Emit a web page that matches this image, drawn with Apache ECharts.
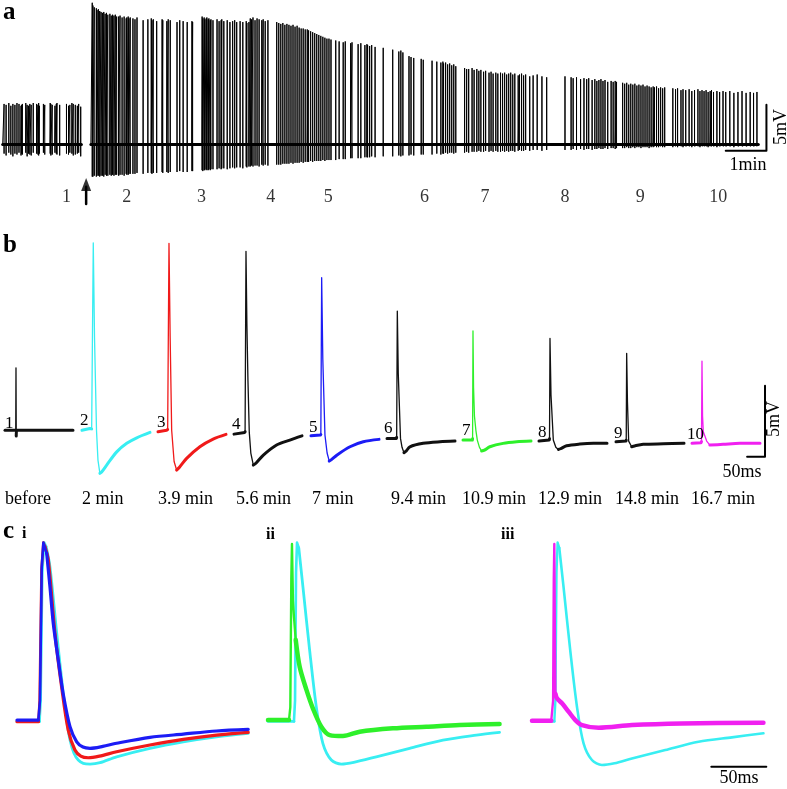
<!DOCTYPE html>
<html><head><meta charset="utf-8">
<script src="https://cdn.jsdelivr.net/npm/echarts@6/dist/echarts.min.js"></script>
<style>html,body{margin:0;padding:0;background:#fff}#c{width:787px;height:789px}</style>
</head><body><div id="c"></div>
<script>
// ---------- Panel a: spike train (time in s, voltage in mV rel. baseline) ----------
const recBefore = [4, 120];
const recAfter = [134, 1118];
const beforeSpikeT = [6,9,13,16,19,22,25,28,31,32, 33,38,40,42,44,46,49,54,56,57, 58,64,66,74,75,77,81,83,84,88, 98,101,103,106,108,111,114,116,119];
const beforeSpikePeak = [4.4,4.3,4.5,4.2,4.4,4.3,4.5,4.4,4.2,4.3, 4.4,4.5,4.3,4.2,4.4,4.3,4.5,4.4,4.3,4.5, 4.2,4.4,4.3,4.5,4.4,4.3,4.2,4.4,4.5,4.3, 4.4,4.2,4.3,4.5,4.4,4.3,4.2,4.4,4.1];
const beforeSpikeTrough = [-1.0,-1.2,-0.9,-1.1,-1.3,-1.0,-1.1,-0.9,-1.2,-1.0, -1.1,-0.9,-1.3,-1.0,-1.1,-1.2,-0.9,-1.0,-1.1,-1.2, -1.0,-0.9,-1.1,-1.0,-1.2,-1.1,-0.9,-1.0,-1.1,-1.2, -1.0,-1.1,-0.9,-1.0,-1.2,-1.1,-1.0,-0.9,-1.3];
const afterSpikeT = [
 136,137,139,142,143,145,147,149,151,153,155,157,159,162,164,166,168,170,172,175,177,180,183,186,187,189,190,192,
 196,199,202,211,218,223,224,226,231,239,240,246,248,251,261,265,270,276,283,284,
 298,299,301,302,304,305,307,308,310,311,314,320,323,326,327,330,335,339,343,346,349,354,358,363,364,367,
 369,371,373,376,379,382,386,388,391,395,
 408,411,414,417,420,423,426,429,432,435,438,441,444,447,450,453,455,458,461,464,467,470,473,476,479,482,485,488,
 495,500,506,509,517,519,528,532,538,541,542,545,548,553,
 565,579,588,591,594,
 603,606,610,621,624,
 637,644,650,653,654,657,660,663,666,669,672,
 685,688,691,696,699,703,706,709,713,716,721,724,727,731,734,
 738,741,744,747,750,753,756,759,764,766,769,772,775,781,786,792,799,806,
 833,842,845,850,856,861,865,868,873,877,880,883,886,889,892,896,901,904,907,909,
 918,921,924,927,930,933,936,939,942,945,948,951,954,957,960,963,965,968,971,974,977,980,
 992,996,999,1004,1007,1011,1016,1020,1024,1029,1032,1035,1038,1041,1044,1047,1049,1052,1057,1061,1066,1070,1076,1082,1088,1094,1100,1106,1111,1116];
const afterSpikePeak = [
 15.4,15.1,14.9,14.8,14.6,14.7,14.5,14.4,14.3,14.4,14.2,14.3,14.1,14.2,14.0,14.1,14.0,14.1,13.9,13.9,14.0,13.8,13.9,13.7,13.8,13.9,13.7,13.8,
 13.7,13.6,13.8,13.5,13.6,13.7,13.5,13.6,13.4,13.6,13.5,13.4,13.6,13.5,13.3,13.5,13.4,13.3,13.4,13.3,
 13.9,13.7,13.8,13.6,13.7,13.8,13.6,13.7,13.5,13.6,13.5,13.6,13.4,13.5,13.6,13.4,13.5,13.3,13.4,13.5,13.3,13.4,13.3,13.4,13.2,13.3,
 13.7,13.6,13.8,13.5,13.7,13.6,13.5,13.6,13.4,13.5,
 13.3,13.2,13.1,13.2,13.0,13.1,13.0,12.9,13.0,12.8,12.9,12.7,12.6,12.6,12.5,12.5,12.4,12.3,12.2,12.1,12.0,11.9,11.8,11.7,11.6,11.5,11.5,11.4,
 11.3,11.2,11.1,11.2,11.0,11.1,10.9,11.0,10.8,10.9,10.8,10.7,10.8,10.6,
 10.5,10.3,10.1,10.2,10.0,
 9.6,9.5,9.4,9.3,9.2,
 9.1,9.0,8.9,9.0,8.8,8.9,8.7,8.8,8.6,8.7,8.5,
 8.3,8.2,8.2,8.3,8.1,8.2,8.0,8.1,7.9,8.0,7.8,7.9,7.7,7.8,7.7,
 7.8,7.7,7.8,7.6,7.7,7.8,7.6,7.7,7.5,7.6,7.7,7.5,7.6,7.4,7.5,7.6,7.4,7.3,
 7.4,7.3,7.2,7.3,7.1,7.2,7.1,7.2,7.0,7.1,6.9,7.0,7.1,6.9,7.0,6.8,6.9,6.8,6.9,6.8,
 6.7,6.6,6.7,6.5,6.6,6.5,6.6,6.4,6.5,6.4,6.5,6.3,6.4,6.3,6.2,6.3,6.2,6.3,6.1,6.2,6.1,6.2,
 6.1,6.0,6.1,5.9,6.0,5.9,6.0,5.8,5.9,6.0,5.8,5.9,5.8,5.9,5.7,5.8,5.9,5.7,5.8,5.7,5.8,5.7,5.8,5.6,5.7,5.8,5.6,5.7,5.6,5.7];
const afterSpikeTrough = [
 -3.5,-3.5,-3.4,-3.5,-3.4,-3.4,-3.5,-3.4,-3.4,-3.5,-3.3,-3.4,-3.4,-3.3,-3.4,-3.3,-3.4,-3.3,-3.3,-3.4,-3.3,-3.3,-3.4,-3.2,-3.3,-3.3,-3.2,-3.2,
 -3.2,-3.2,-3.1,-3.2,-3.1,-3.1,-3.2,-3.1,-3.1,-3.0,-3.1,-3.0,-3.1,-3.0,-3.0,-2.9,-3.0,-3.0,-2.9,-2.9,
 -2.8,-2.9,-2.8,-2.8,-2.7,-2.8,-2.8,-2.7,-2.8,-2.7,-2.7,-2.7,-2.6,-2.7,-2.6,-2.6,-2.7,-2.6,-2.5,-2.6,-2.5,-2.5,-2.6,-2.4,-2.5,-2.4,
 -2.4,-2.3,-2.4,-2.3,-2.3,-2.4,-2.2,-2.3,-2.2,-2.3,
 -2.2,-2.2,-2.2,-2.1,-2.1,-2.1,-2.1,-2.0,-2.1,-2.0,-2.0,-2.0,-1.9,-2.0,-1.9,-1.9,-1.9,-1.8,-1.9,-1.8,-1.8,-1.8,-1.8,-1.7,-1.8,-1.7,-1.7,-1.7,
 -1.7,-1.6,-1.6,-1.6,-1.5,-1.5,-1.5,-1.5,-1.4,-1.4,-1.4,-1.4,-1.3,-1.4,
 -1.3,-1.3,-1.2,-1.3,-1.2,
 -1.2,-1.1,-1.2,-1.1,-1.1,
 -1.1,-1.0,-1.1,-1.0,-1.0,-0.9,-1.0,-0.9,-0.9,-1.0,-0.9,
 -0.9,-0.8,-0.9,-0.8,-0.8,-0.8,-0.7,-0.8,-0.8,-0.7,-0.8,-0.7,-0.8,-0.7,-0.8,
 -0.8,-0.7,-0.8,-0.7,-0.8,-0.7,-0.7,-0.8,-0.7,-0.6,-0.7,-0.7,-0.6,-0.7,-0.6,-0.6,-0.7,-0.6,
 -0.6,-0.6,-0.5,-0.6,-0.5,-0.6,-0.5,-0.5,-0.6,-0.5,-0.5,-0.4,-0.5,-0.5,-0.4,-0.5,-0.4,-0.4,-0.5,-0.4,
 -0.4,-0.4,-0.3,-0.4,-0.4,-0.3,-0.4,-0.3,-0.3,-0.4,-0.3,-0.3,-0.3,-0.4,-0.3,-0.3,-0.2,-0.3,-0.3,-0.2,-0.3,-0.3,
 -0.3,-0.2,-0.3,-0.2,-0.3,-0.2,-0.2,-0.3,-0.2,-0.2,-0.3,-0.2,-0.2,-0.2,-0.3,-0.2,-0.2,-0.2,-0.3,-0.2,-0.2,-0.2,-0.2,-0.3,-0.2,-0.2,-0.2,-0.2,-0.2,-0.2];
const sampleMarkNames = ['1','2','3','4','5','6','7','8','9','10'];
const sampleMarkT = [98,187,297,399,484,626,715,833,944,1059];
const drugOnsetT = 127;
const scaleA = { t: 60, v: 5 };

// ---------- Panel b: single spikes (time in ms, mV) ----------
const bTimeLabels = ['before','2 min','3.9 min','5.6 min','7 min','9.4 min','10.9 min','12.9 min','14.8 min','16.7 min'];
const bNumbers = ['1','2','3','4','5','6','7','8','9','10'];
const b1T = [0,30,30.7,31.4,32.5,190];
const b1V = [0,0,4.4,-0.4,0,0];
const b2T = [0,22,27,29,31.5,35,40.5,44.6,50,56,69,97,125,153,190];
const b2V = [0,0.13,0.1,6,13.2,6.5,0,-2.1,-3.03,-2.9,-2.45,-1.52,-0.92,-0.53,-0.15];
const b3T = [0,24,27,30.7,34,38.2,45,52,60,80,117,154,190];
const b3V = [-0.1,0,0.05,13.16,6.5,0,-2.2,-2.8,-2.6,-1.98,-1.16,-0.62,-0.29];
const b4T = [0,30,31,33.5,36,39,42.7,47,54,62,82,119,156,190];
const b4V = [-0.27,-0.15,-0.1,12.6,7.5,3.5,-0.15,-1.6,-2.45,-2.3,-1.75,-1.04,-0.69,-0.39];
const b5T = [0,26,27.5,29.8,33,39,45,51,58,72,109,146,190];
const b5V = [-0.39,-0.34,-0.3,10.74,5.0,-0.34,-1.6,-2.17,-2.05,-1.75,-1.16,-0.81,-0.64];
const b6T = [0,26,27,28.8,31.5,37.7,42,47.4,54,64,101,148,190];
const b6V = [-0.57,-0.57,-0.5,8.39,4.0,-0.57,-1.2,-1.58,-1.45,-1.16,-0.92,-0.81,-0.76];
const b7T = [0,26,26.8,27.9,29.5,32,36,40,46,52,60,75,112,150,190];
const b7V = [-0.69,-0.69,-0.6,6.99,3.0,1.0,0.0,-0.69,-1.2,-1.46,-1.4,-1.16,-0.92,-0.81,-0.76];
const b8T = [0,28.7,29.4,30.7,33.5,40,47,54,60,77,114,152,190];
const b8V = [-0.76,-0.69,-0.6,6.47,2.5,-0.69,-1.2,-1.35,-1.3,-1.09,-0.97,-0.92,-0.92];
const b9T = [0,27.9,28.6,29.8,32,35.4,43.8,52,76,132,190];
const b9V = [-0.81,-0.76,-0.7,5.42,2.0,-0.76,-1.16,-1.1,-0.99,-0.95,-0.92];
const b10T = [0,25,26.5,27.9,29.5,31.6,36,41,50,87,134,190];
const b10V = [-0.92,-0.88,-0.8,4.87,1.0,-0.1,-0.4,-0.76,-1.04,-0.99,-0.92,-0.92];
const scaleB = { t: 50, v: 5 };

// ---------- Panel c: overlaid normalised spikes (ms, mV) ----------
const ciCyanT = [0,20.5,21.5,23,24.8,26.5,30,36.1,42.1,45.2,48.2,51.8,55.7,60.3,66.4,75.5,90.6,120.9,151.2,181.5,210.3];
const ciCyanV = [-0.05,-0.05,1.5,11.0,13.2,12.9,11.4,6.5,2.0,0.05,-1.43,-2.41,-2.91,-3.16,-3.21,-3.11,-2.67,-2.04,-1.56,-1.19,-0.93];
const ciRedT = [0,19.5,20.6,22.3,24,25.5,28.5,34.5,40.6,46.6,52.7,58,64.8,75,90.6,120.9,151.2,181.5,210.3];
const ciRedV = [-0.07,-0.07,1.5,11.2,13.2,12.9,11.9,6.5,2.5,-0.69,-2.17,-2.62,-2.74,-2.62,-2.30,-1.80,-1.38,-1.06,-0.86];
const ciBlueT = [0,19.4,20.9,22.5,24,27,30,33,37.5,42,48.2,54.3,60,66.4,78,90.6,120.9,151.2,181.5,210.3];
const ciBlueV = [0.05,0.05,1.5,11.4,13.2,12.4,9.9,7.2,4.5,2.0,-0.44,-1.56,-1.95,-2.04,-1.9,-1.67,-1.23,-0.99,-0.76,-0.64];
const ciiCyanT = [0,23.6,24.6,25.5,26.4,28,31.8,37.9,43.9,49.9,57.6,66.7,78,98.5,128.8,159.1,189.5,210.6];
const ciiCyanV = [-0.05,-0.05,1.5,11.0,13.2,12.8,9.9,5.2,1.04,-1.67,-2.91,-3.21,-3.08,-2.67,-2.04,-1.43,-1.06,-0.86];
const ciiGreenT = [0,19.1,20.3,21.2,21.8,22.7,23.6,25.2,28.8,34.9,40.9,48.5,56.1,68.2,83.4,113.6,144,174.3,210.6];
const ciiGreenV = [0.05,0.05,1.0,10.5,13.1,8.9,7.7,6.0,4.0,2.3,0.9,-0.44,-1.06,-1.13,-0.81,-0.56,-0.44,-0.32,-0.24];
const ciiiCyanT = [0,20.3,21.3,22.3,23.3,24.8,28.7,34.8,40.9,46.9,54.5,63.6,75,90.9,121.2,151.5,181.8,210.5];
const ciiiCyanV = [-0.05,-0.05,1.5,11.0,13.2,12.8,9.9,5.2,1.04,-1.67,-2.91,-3.28,-3.15,-2.79,-2.17,-1.56,-1.23,-0.93];
const ciiiMagT = [0,17.5,19.2,19.8,20.3,20.8,21.3,22.7,27.3,33.3,39.4,45.5,60.6,90.9,136.4,210.5];
const ciiiMagV = [0,0,1.5,10.5,13.1,6.5,2.0,1.66,1.29,0.67,0.05,-0.32,-0.52,-0.32,-0.2,-0.15];
const scaleC = { t: 50 };

// ---------- layout / style ----------
const FONT = '"Liberation Serif","Times New Roman",serif';
const COL = { cyan:'#38eef2', red:'#f01a1a', blue:'#1c1cf5', green:'#2ef02a', magenta:'#f020f0', black:'#111' };
const grids = [], xAxes = [], yAxes = [], series = [];
function addGrid(left, top, width, height, x0, x1, y0, y1) {
  const i = grids.length;
  grids.push({ left, top, width, height, show:false });
  xAxes.push({ type:'value', gridIndex:i, min:x0, max:x1, show:false, splitLine:{show:false} });
  yAxes.push({ type:'value', gridIndex:i, min:y0, max:y1, show:false, splitLine:{show:false} });
  return i;
}
function line(gi, data, color, width, z, smooth) {
  series.push({ type:'line', xAxisIndex:gi, yAxisIndex:gi, data, symbol:'none', showSymbol:false,
    smooth: smooth || false,
    lineStyle:{ color, width, join:'round', cap:'round' }, silent:true, animation:false, clip:false, z: z||2 });
}
function pairs(t, v) { const n = Math.min(t.length, v.length); const d = []; for (let i=0;i<n;i++) d.push([t[i], v[i]]); return d; }
function spikeTrain(times, peaks, troughs, seg) {
  const d = [[seg[0], 0]];
  const n = Math.min(times.length, peaks.length, troughs.length);
  for (let i=0;i<n;i++) { const t = times[i]; d.push([t,0],[t,peaks[i]],[t,troughs[i]],[t,0]); }
  d.push([seg[1], 0]);
  return d;
}
// noisy flat stretch before the upstroke and the tail are drawn thick, the spike itself thin
function trace(gi, t, v, color, thin, thick, tailLevel, z) {
  const d = pairs(t, v);
  let pk = 0; d.forEach((p, i) => { if (p[1] > d[pk][1]) pk = i; });
  let tr = pk; for (let i = pk; i < d.length; i++) if (d[i][1] < d[tr][1]) tr = i;
  let onset = 0; for (let i = 0; i < pk; i++) if (Math.abs(d[i][1] - d[0][1]) < 0.3) onset = i;
  let k = tr;
  if (tailLevel != null) { for (let i = pk + 1; i < d.length; i++) if (d[i][1] < tailLevel) { k = i; break; } }
  line(gi, d.slice(0, onset + 1), color, thick, z);
  line(gi, d.slice(onset, k + 1), color, thin, z);
  line(gi, d.slice(k), color, thick, z, 0.3);
}

// Panel a grid: 0.678 px/s, 9.2 px/mV
const gA = addGrid(0, 0, 780, 210, 0, 1150, -7.13, 15.7);
line(gA, [[recBefore[0],0],[recBefore[1],0]], '#000', 3);
line(gA, [[recAfter[0],0],[recAfter[1],0]], '#000', 3);
line(gA, spikeTrain(beforeSpikeT, beforeSpikePeak, beforeSpikeTrough, recBefore), '#000', 1);
line(gA, spikeTrain(afterSpikeT, afterSpikePeak, afterSpikeTrough, recAfter), '#000', 1);
line(gA, [[1130 - scaleA.t, -0.7],[1130, -0.7],[1130, -0.7 + scaleA.v]], '#000', 2);
line(gA, [[drugOnsetT, -6.47],[drugOnsetT, -4.6]], '#000', 2.5);
series.push({ type:'scatter', xAxisIndex:gA, yAxisIndex:gA, data:[[drugOnsetT, -4.35]], symbol:'triangle', symbolSize:[10,13],
  itemStyle:{color:'#000'}, silent:true, animation:false });
series.push({ type:'scatter', xAxisIndex:gA, yAxisIndex:gA, symbolSize:1, silent:true, animation:false,
  itemStyle:{color:'rgba(0,0,0,0)'},
  data: sampleMarkT.map((t,i) => ({ value:[t, -5.7], name: sampleMarkNames[i] })),
  label:{ show:true, position:'inside', formatter:'{b}', fontFamily:FONT, fontSize:18, color:'#000' } });

// Panel b grids: 68 px per 190 ms, 14.2 px/mV
const bLefts = [5,82,158,234,311,387,463,539,616,692];
const bTraces = [[b1T,b1V,COL.black],[b2T,b2V,COL.cyan],[b3T,b3V,COL.red],[b4T,b4V,COL.black],[b5T,b5V,COL.blue],
  [b6T,b6V,COL.black],[b7T,b7V,COL.green],[b8T,b8V,COL.black],[b9T,b9V,COL.black],[b10T,b10V,COL.magenta]];
bTraces.forEach((tr, i) => {
  const g = addGrid(bLefts[i], 230, 68, 250, 0, 190, -3.5, 14.1);
  trace(g, tr[0], tr[1], tr[2], 1.3, 3);
});
// scale-bar grid with the same scales as the last trace, wide enough to hold the bar
const gBs = addGrid(692, 230, 80, 250, 0, 190 * 80 / 68, -3.5, 14.1);
line(gBs, [[204 - scaleB.t, -1.87],[204, -1.87],[204, -1.87 + scaleB.v]], '#000', 2);

// Panel c grids: 1.1 px/ms, 13.5 px/mV
const gCi = addGrid(17, 530, 232, 250, 0, 211, -4.39, 14.13);
trace(gCi, ciCyanT, ciCyanV, COL.cyan, 2.6, 2.8, 13.1, 2);
trace(gCi, ciRedT, ciRedV, COL.red, 2.6, 3.2, 13.1, 3);
trace(gCi, ciBlueT, ciBlueV, COL.blue, 2.6, 3.2, 13.1, 4);
const gCii = addGrid(268, 530, 232, 250, 0, 211, -4.39, 14.13);
trace(gCii, ciiCyanT, ciiCyanV, COL.cyan, 2.6, 2.8, 13.1, 2);
trace(gCii, ciiGreenT, ciiGreenV, COL.green, 2.4, 4.5, 7, 3);
const gCiii = addGrid(532, 530, 232, 250, 0, 211, -4.39, 14.13);
trace(gCiii, ciiiCyanT, ciiiCyanV, COL.cyan, 2.4, 2.6, 13.1, 2);
trace(gCiii, ciiiMagT, ciiiMagV, COL.magenta, 2.4, 4.5, 2.5, 3);
const gCs = addGrid(532, 530, 250, 250, 0, 250 / 1.1, -4.39, 14.13);
line(gCs, [[213 - scaleC.t, -3.41],[213, -3.41]], '#000', 2);

// ---------- text ----------
function txt(x, y, s, font, align, rot) {
  return { type:'text', x, y, rotation: rot || 0, z:100, silent:true,
    style:{ text:s, font, fill:'#000', align: align || 'center', verticalAlign:'middle' } };
}
const F18 = '18px ' + FONT, F17 = '17px ' + FONT, FB24 = 'bold 25px ' + FONT, FB16 = 'bold 16px ' + FONT;
const graphic = [
  txt(3, 13, 'a', FB24, 'left'), txt(3, 246, 'b', FB24, 'left'), txt(3, 531.5, 'c', FB24, 'left'),
  txt(22, 534, 'i', FB16, 'left'), txt(266, 535, 'ii', FB16, 'left'), txt(501, 535, 'iii', FB16, 'left'),
  txt(748, 165, '1min', F18), txt(781, 127, '5mV', F18, 'center', Math.PI/2),
  txt(774, 419, '5mV', F18, 'center', Math.PI/2), txt(742, 472, '50ms', F18), txt(739, 778, '50ms', F18)
];
const bNumX = [5,80,157,232,309,384,462,538,614,687];
const bNumY = [424,420.5,422.5,425,427.5,428.5,431,432.5,434,435];
bNumbers.forEach((s, i) => graphic.push(txt(bNumX[i], bNumY[i], s, F17, 'left')));
const bLabX = [5,82,158,236,312,391,462,538,615,691];
bTimeLabels.forEach((s, i) => graphic.push(txt(bLabX[i], 499, s, F18, 'left')));

const chart = echarts.init(document.getElementById('c'), null, { renderer:'canvas' });
chart.setOption({ animation:false, backgroundColor:'#fff', grid:grids, xAxis:xAxes, yAxis:yAxes, series, graphic });
</script></body></html>
